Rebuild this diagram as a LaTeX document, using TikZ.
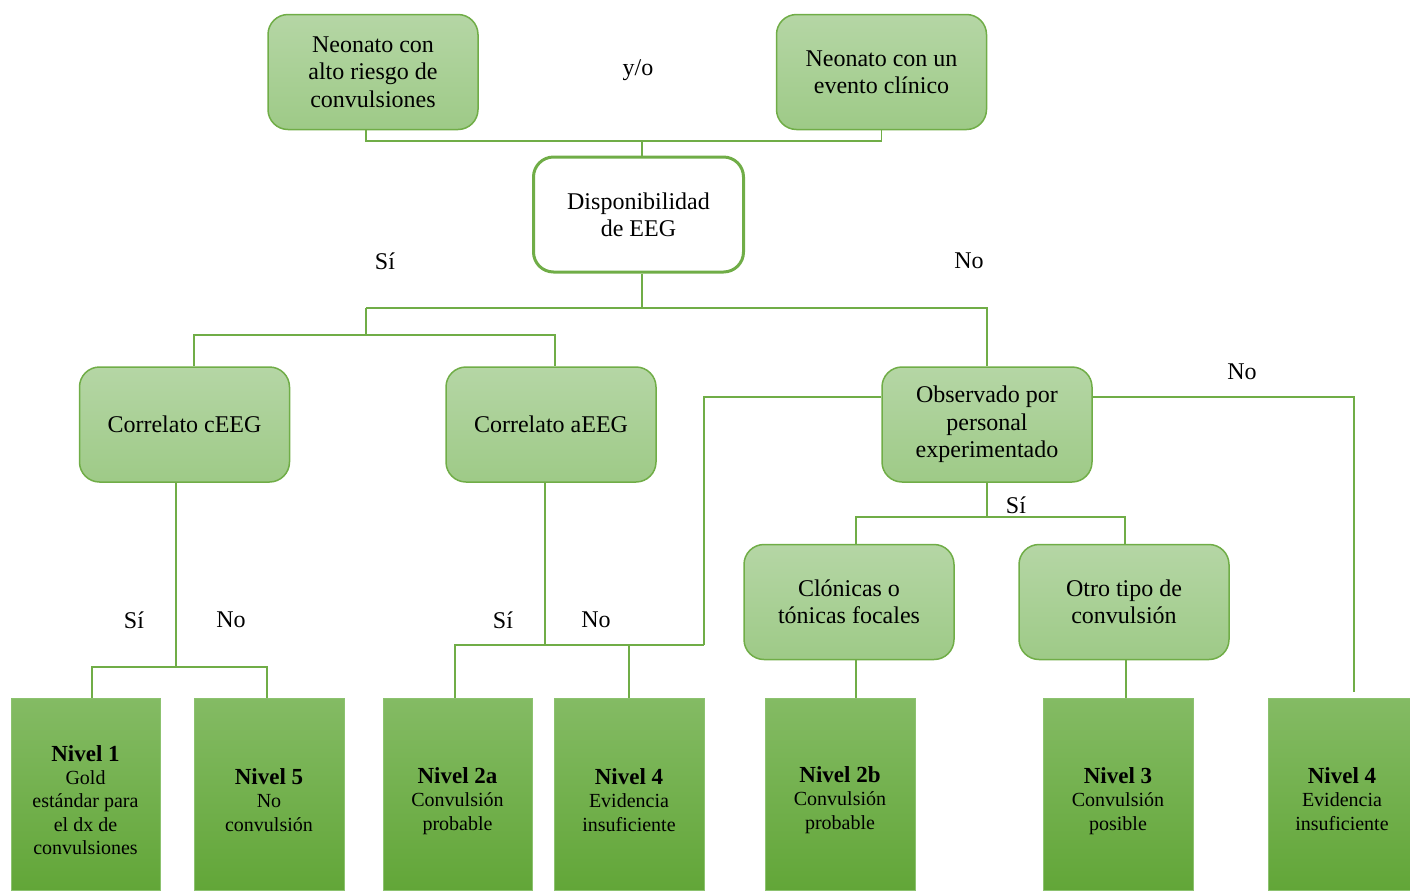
\documentclass[tikz,border=0pt]{standalone}
\usepackage{fontspec}
\setmainfont{Liberation Serif}
\definecolor{gline}{HTML}{70AD47}
\definecolor{ltop}{HTML}{B5D6A5}
\definecolor{lbot}{HTML}{9ECA87}
\definecolor{dtop}{HTML}{84BB64}
\definecolor{dbot}{HTML}{62A638}
\definecolor{dedge}{HTML}{8CC26F}
\tikzset{
  lbox/.style={draw=gline, line width=0.75pt, rounded corners=10pt, top color=ltop, bottom color=lbot,
    minimum width=105pt, minimum height=57.5pt, align=center, inner sep=2pt,
    font=\fontsize{12}{13.7}\selectfont},
  wbox/.style={draw=gline, line width=1.5pt, rounded corners=10pt, fill=white,
    minimum width=105pt, minimum height=57.5pt, align=center, inner sep=2pt,
    font=\fontsize{12}{13.7}\selectfont},
  dbox/.style={draw=dedge, line width=0.5pt, top color=dtop, bottom color=dbot,
    minimum width=75pt, minimum height=96pt, inner sep=0pt},
  dtxt/.style={align=center, inner sep=0pt, font=\fontsize{10}{11.7}\selectfont},
  conn/.style={draw=gline, line width=0.75pt},
  lbl/.style={font=\fontsize{12}{13.7}\selectfont, inner sep=0pt},
}
\newcommand{\niv}[1]{{\fontsize{11.5}{12.5}\selectfont\bfseries #1}}
\begin{document}
\begin{tikzpicture}[x=0.5pt,y=-0.5pt]
\useasboundingbox (0,0) rectangle (1410,890);
% upper boxes
\node[lbox] (n1) at (373,72) {Neonato con\\alto riesgo de\\convulsiones};
\node[lbox] (n2) at (881.5,72) {Neonato con un\\evento clínico};
\node[wbox] (eeg) at (638.5,214.5) {Disponibilidad\\de EEG};
\node[lbox] (cc) at (184.5,424.5) {Correlato cEEG};
\node[lbox] (ca) at (551,424.5) {Correlato aEEG};
\node[lbox] (obs) at (987,424.5) {Observado por\\personal\\experimentado};
\node[lbox] (clo) at (849,602) {Clónicas o\\tónicas focales};
\node[lbox] (otro) at (1124,602) {Otro tipo de\\convulsión};
% bottom boxes
\node[dbox, minimum width=74.5pt] (L1) at (85.5,794) {};
\node[dbox] (L5) at (269,794) {};
\node[dbox, minimum width=74.5pt] (L2a) at (457.5,794) {};
\node[dbox] (L4a) at (629,794) {};
\node[dbox] (L2b) at (840,794) {};
\node[dbox] (L3) at (1118,794) {};
\node[dbox, minimum width=71pt] (L4b) at (1339,794) {};
\node[dtxt] (L1t) at (85.5,800) {\niv{Nivel 1}\\Gold\\estándar para\\el dx de\\convulsiones};
\node[dtxt] (L5t) at (269,800) {\niv{Nivel 5}\\No\\convulsión};
\node[dtxt] (L2at) at (457.5,801) {\niv{Nivel 2a}\\Convulsión\\probable};
\node[dtxt] (L4at) at (629,800) {\niv{Nivel 4}\\Evidencia\\insuficiente};
\node[dtxt] (L2bt) at (840,800) {\niv{Nivel 2b}\\Convulsión\\probable};
\node[dtxt] (L3t) at (1118,801) {\niv{Nivel 3}\\Convulsión\\posible};
\node[dtxt] (L4bt) at (1342,799) {\niv{Nivel 4}\\Evidencia\\insuficiente};
% junction coordinates
\coordinate (j0) at (642,141);
\coordinate (j1) at (642,308);
\coordinate (j2) at (366,308);
\coordinate (j3) at (366,335);
\coordinate (j4) at (176,667);
\coordinate (j5) at (545,645);
\coordinate (j6) at (704,645);
\coordinate (j7) at (1354,692);
\coordinate (j8) at (987,517);
% connectors
\draw[conn] ([xshift=-3.5pt]n1.south) |- (j0) -| (n2.south);
\draw[conn] (j0) -- (j0 |- eeg.north);
\draw[conn] (eeg.south -| j1) -- (j1);
\draw[conn] (j2) -| (obs.north);
\draw[conn] (j2) -- (j3);
\draw[conn] ([xshift=4.75pt]cc.north) |- (j3) -| ([xshift=2pt]ca.north);
\draw[conn] ([xshift=-4.25pt]cc.south) -- (j4);
\draw[conn] ([xshift=3.25pt]L1.north) |- (j4) -| ([xshift=-1pt]L5.north);
\draw[conn] ([xshift=-3pt]ca.south) -- (j5);
\draw[conn] ([xshift=-1.25pt]L2a.north) |- (j6);
\draw[conn] (L4a.north) -- (L4a.north |- j6);
\draw[conn] ([yshift=13.75pt]obs.west) -| (j6);
\draw[conn] ([yshift=13.75pt]obs.east) -| (j7);
\draw[conn] (obs.south) -- (j8);
\draw[conn] ([xshift=3.5pt]clo.north) |- (j8) -| ([xshift=0.5pt]otro.north);
\draw[conn] ([xshift=3.5pt]clo.south) -- ([xshift=3.5pt]clo.south |- L2b.north);
\draw[conn] ([xshift=1pt]otro.south) -- ([xshift=1pt]otro.south |- L3.north);
% labels
\node[lbl] (t1) at (638,70) {y/o};
\node[lbl] (t2) at (385,261) {Sí};
\node[lbl] (t3) at (969,261) {No};
\node[lbl] (t4) at (134,620) {Sí};
\node[lbl] (t5) at (231,620) {No};
\node[lbl] (t6) at (503,620) {Sí};
\node[lbl] (t7) at (596,620) {No};
\node[lbl] (t8) at (1242,372) {No};
\node[lbl] (t9) at (1016,505) {Sí};
\end{tikzpicture}
\end{document}
